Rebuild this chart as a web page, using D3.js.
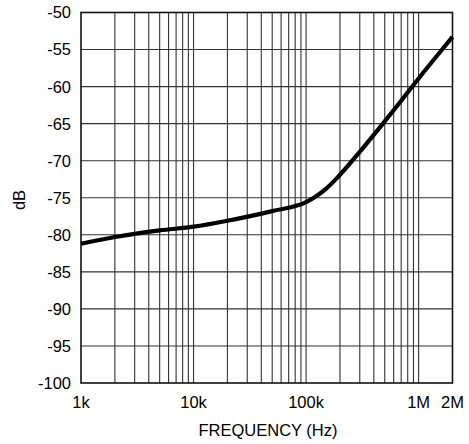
<!DOCTYPE html>
<html><head><meta charset="utf-8">
<script src="https://cdn.jsdelivr.net/npm/d3@7/dist/d3.min.js"></script>
<style>body{margin:0;background:#fff}svg{display:block}text{font-family:"Liberation Sans",Arial,sans-serif;fill:#000}</style>
</head><body><svg id="c" width="469" height="444"></svg>
<script>
const freqs = [1e3, 2e3, 5e3, 1e4, 2e4, 5e4, 1e5, 1.2e5, 1.5e5, 2e5, 3e5, 5e5, 7e5, 1e6, 1.5e6, 2e6];
const dB    = [-81.2, -80.3, -79.4, -78.9, -78.1, -76.8, -75.6, -74.9, -73.8, -71.9, -68.8, -64.7, -61.9, -58.9, -55.6, -53.3];
const xTickVals = [1e3, 1e4, 1e5, 1e6, 2e6];
const xTickLabels = ["1k", "10k", "100k", "1M", "2M"];
const yTickVals = [-50, -55, -60, -65, -70, -75, -80, -85, -90, -95, -100];

const L = 81, R = 452.5, T = 12.5, B = 383;
const svg = d3.select("#c");
const x = d3.scaleLog().domain([1e3, 2e6]).range([L, R]);
const y = d3.scaleLinear().domain([-100, -50]).range([B, T]);

const vgrid = [];
for (let d = 1e3; d < 2e6; d *= 10) for (let k = 1; k < 10; k++) { const v = d * k; if (v > 1e3 && v < 2e6) vgrid.push(v); }
svg.append("g").selectAll("line").data(vgrid).join("line")
  .attr("x1", d => x(d)).attr("x2", d => x(d)).attr("y1", T).attr("y2", B)
  .attr("stroke", "#333").attr("stroke-width", 1.1);
svg.append("g").selectAll("line").data(yTickVals.filter(v => v > -100 && v < -50)).join("line")
  .attr("x1", L).attr("x2", R).attr("y1", d => y(d)).attr("y2", d => y(d))
  .attr("stroke", "#333").attr("stroke-width", 1.1);

svg.append("rect").attr("x", L).attr("y", T).attr("width", R - L).attr("height", B - T)
  .attr("fill", "none").attr("stroke", "#111").attr("stroke-width", 1.6);

svg.append("g").selectAll("text").data(yTickVals).join("text")
  .attr("x", L - 10).attr("y", d => y(d)).attr("dy", "0.36em").attr("text-anchor", "end")
  .attr("font-size", 16.5).text(d => d);
svg.append("g").selectAll("text").data(xTickVals).join("text")
  .attr("x", (d, i) => x(d)).attr("y", B + 24.5).attr("text-anchor", "middle")
  .attr("font-size", 16.5).text((d, i) => xTickLabels[i]);

svg.append("text").attr("x", 268).attr("y", 436).attr("text-anchor", "middle").attr("font-size", 16.5).text("FREQUENCY (Hz)");
svg.append("text").attr("transform", "translate(25,200) rotate(-90)").attr("text-anchor", "middle").attr("font-size", 16.5).text("dB");

const line = d3.line().x(d => x(d[0])).y(d => y(d[1])).curve(d3.curveMonotoneX);
svg.append("path").datum(freqs.map((f, i) => [f, dB[i]])).attr("d", line)
  .attr("fill", "none").attr("stroke", "#000").attr("stroke-width", 4.2).attr("stroke-linecap", "butt");
</script></body></html>
